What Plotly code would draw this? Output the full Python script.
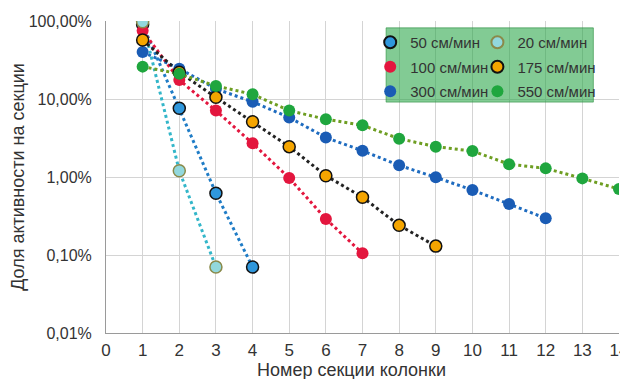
import plotly.graph_objects as go

sections = list(range(1, 15))
x_ticks = list(range(0, 15))

s50 = [90, 7.6, 0.62, 0.07]
s20 = [98, 1.2, 0.07]
s100 = [75, 17.5, 7.1, 2.7, 0.97, 0.29, 0.105]
s175 = [57, 22, 10.5, 5.1, 2.45, 1.04, 0.55, 0.24, 0.13]
s300 = [40, 24.5, 13.5, 9.2, 5.8, 3.2, 2.17, 1.41, 0.99, 0.68, 0.45, 0.295]
s550 = [26, 21, 14.7, 11.5, 7.1, 5.5, 4.6, 3.1, 2.45, 2.15, 1.46, 1.29, 0.96, 0.70]

y_tickvals = [0.01, 0.1, 1, 10, 100]
y_ticktext = ["0,01%", "0,10%", "1,00%", "10,00%", "100,00%"]

x_title = "Номер секции колонки"
y_title = "Доля активности на секции"

series = [
    # name, values, line color, fill, outline, legend
    ("50 см/мин", s50, "#1f7cc6", "#2f97dc", "#111111", "legend"),
    ("100 см/мин", s100, "#e3163e", "#e3163e", "#e3163e", "legend"),
    ("300 см/мин", s300, "#1f6cc0", "#1a5cb5", "#1a5cb5", "legend"),
    ("20 см/мин", s20, "#33b6c9", "#92d8dd", "#8a8a4a", "legend2"),
    ("175 см/мин", s175, "#222222", "#f5a500", "#111111", "legend2"),
    ("550 см/мин", s550, "#6e9e22", "#1fa63e", "#1fa63e", "legend2"),
]

fig = go.Figure()
for name, vals, lc, fc, oc, lg in series:
    fig.add_trace(go.Scatter(
        x=sections[:len(vals)], y=vals, mode="lines", showlegend=False,
        line=dict(color=lc, width=3, dash="dot"), hoverinfo="skip",
    ))
for name, vals, lc, fc, oc, lg in series:
    fig.add_trace(go.Scatter(
        x=sections[:len(vals)], y=vals, name=name, mode="markers",
        marker=dict(size=12, color=fc, line=dict(color=oc, width=1.5 if oc != fc else 0)),
        legend=lg, legendgroup=name,
    ))

font = "Liberation Sans, Arial, sans-serif"
leg_common = dict(bgcolor="rgba(0,0,0,0)", borderwidth=0,
                  font=dict(family=font, size=15, color="#333333"),
                  itemsizing="constant", tracegroupgap=2,
                  xanchor="left", yanchor="top")

# page body has an 8px margin: figure is sized to fill the rest of the window
fig.update_layout(
    width=620, height=371,
    margin=dict(l=98, r=9, t=13, b=46),
    paper_bgcolor="white", plot_bgcolor="white",
    showlegend=True,
    legend=dict(x=0.515, y=0.984, **leg_common),
    legend2=dict(x=0.724, y=0.984, **leg_common),
    shapes=[dict(type="rect", xref="paper", yref="paper",
                 x0=0.546, x1=0.950, y0=0.74, y1=0.978,
                 fillcolor="rgba(40,165,70,0.58)", line=dict(color="rgba(40,140,60,0.6)", width=1),
                 layer="above")],
    annotations=[dict(text=x_title, xref="paper", yref="paper", x=0.479, y=-0.119,
                      xanchor="center", yanchor="middle", showarrow=False,
                      font=dict(family=font, size=18, color="#333333"))],
    xaxis=dict(range=[0, 14], tickvals=x_ticks, showgrid=True, gridcolor="#d4d4d4", gridwidth=1,
               showline=True, linecolor="#9a9a9a", ticks="", zeroline=False, automargin=False,
               ticklabeloverflow="allow", ticklabelstandoff=2,
               tickfont=dict(family=font, size=17, color="#333333")),
    yaxis=dict(type="log", range=[-2, 2], tickvals=y_tickvals, ticktext=y_ticktext,
               showgrid=True, gridcolor="#d4d4d4", gridwidth=1, automargin=False,
               showline=True, linecolor="#9a9a9a", ticks="", zeroline=False, ticklabelstandoff=10,
               tickfont=dict(family=font, size=16, color="#333333"),
               title=dict(text=y_title, font=dict(family=font, size=18, color="#333333"), standoff=14)),
)

fig.write_html("out.html")
